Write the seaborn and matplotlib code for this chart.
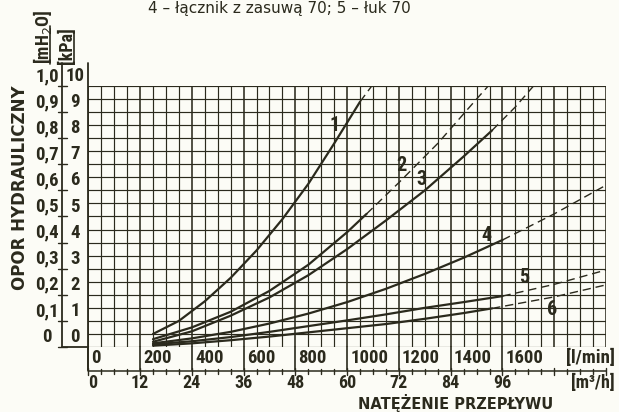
import matplotlib
matplotlib.use("Agg")
import matplotlib.pyplot as plt
from matplotlib import font_manager as fm
import seaborn as sns
import pandas as pd
import numpy as np

sns.set_theme(style="white")
plt.rcParams['font.family'] = ['DejaVu Sans']

_names = {f.name for f in fm.fontManager.ttflist}
if 'Roboto Condensed' in _names:
    NARROW, NS = ['Roboto Condensed', 'DejaVu Sans'], 13.5
elif 'Liberation Sans Narrow' in _names:
    NARROW, NS = ['Liberation Sans Narrow', 'DejaVu Sans'], 13.5
else:
    NARROW, NS = ['Roboto', 'DejaVu Sans'], 11

INK = "#2b2a1d"
PAPER = "#fcfcf6"

# ---------------- data (flow in l/min, pressure loss in kPa) ----------------
c1_x = [250, 350, 450, 550, 650, 750, 850, 950, 1050]
c1_y = [0.5, 1.0, 1.75, 2.65, 3.7, 4.9, 6.25, 7.8, 9.4]
c1_dx = [1050, 1095]
c1_dy = [9.4, 10.0]

c2_x = [250, 400, 550, 700, 850, 1000, 1075]
c2_y = [0.3, 0.75, 1.35, 2.15, 3.15, 4.4, 5.1]
c2_dx = [1075, 1200, 1350, 1500, 1545]
c2_dy = [5.1, 6.3, 7.8, 9.5, 10.0]

c3_x = [250, 400, 550, 700, 850, 1000, 1150, 1300, 1450, 1560]
c3_y = [0.2, 0.6, 1.2, 1.9, 2.75, 3.75, 4.85, 6.0, 7.3, 8.3]
c3_dx = [1560, 1650, 1720]
c3_dy = [8.3, 9.2, 10.0]

c4_x = [250, 400, 550, 700, 850, 1000, 1150, 1300, 1450, 1600]
c4_y = [0.14, 0.33, 0.58, 0.9, 1.28, 1.72, 2.23, 2.8, 3.42, 4.1]
c4_dx = [1600, 1800, 2000]
c4_dy = [4.1, 5.1, 6.2]

c5_x = [250, 400, 550, 700, 850, 1000, 1150, 1300, 1450, 1600]
c5_y = [0.1, 0.22, 0.38, 0.58, 0.8, 1.02, 1.25, 1.5, 1.72, 1.95]
c5_dx = [1600, 1800, 2000]
c5_dy = [1.95, 2.4, 2.95]

c6_x = [250, 400, 550, 700, 850, 1000, 1150, 1300, 1450, 1560]
c6_y = [0.05, 0.14, 0.26, 0.4, 0.56, 0.72, 0.88, 1.08, 1.3, 1.48]
c6_dx = [1560, 1800, 2000]
c6_dy = [1.48, 1.92, 2.38]

curve_names = ["1", "2", "3", "4", "5", "6"]
label_x = [950, 1208, 1288, 1540, 1683, 1790]
label_y = [8.5, 6.97, 6.4, 4.29, 2.65, 1.42]

lmin_ticks = [0, 200, 400, 600, 800, 1000, 1200, 1400, 1600]
lmin_labels = ["0", "200", "400", "600", "800", "1000", "1200", "1400", "1600"]
m3h_labels = ["0", "12", "24", "36", "48", "60", "72", "84", "96"]
kpa_ticks = [0, 1, 2, 3, 4, 5, 6, 7, 8, 9, 10]
kpa_labels = ["0", "1", "2", "3", "4", "5", "6", "7", "8", "9", "10"]
mh2o_labels = ["0", "0,1", "0,2", "0,3", "0,4", "0,5", "0,6", "0,7", "0,8", "0,9", "1,0"]

title = "4 \u2013 łącznik z zasuwą 70; 5 \u2013 łuk 70"

solid = [(c1_x, c1_y), (c2_x, c2_y), (c3_x, c3_y), (c4_x, c4_y), (c5_x, c5_y), (c6_x, c6_y)]
dashed = [(c1_dx, c1_dy), (c2_dx, c2_dy), (c3_dx, c3_dy), (c4_dx, c4_dy), (c5_dx, c5_dy), (c6_dx, c6_dy)]

# ---------------- figure ----------------
W, H = 619, 412
fig = plt.figure(figsize=(W / 100, H / 100), dpi=100, facecolor=PAPER)
L, R, T, B = 88.3, 606.0, 86.0, 347.0
ax = fig.add_axes([L / W, 1 - B / H, (R - L) / W, (B - T) / H])
ax.set_facecolor(PAPER)
ax.set_xlim(0, 2000)
ax.set_ylim(0, 10)

# grid
for gx in np.arange(0, 2001, 50):
    lw = 1.15 if gx % 200 == 0 else 0.85
    ax.axvline(gx, color=INK, lw=lw, zorder=1)
for gy in np.arange(0, 10.01, 0.5):
    ax.axhline(gy, color=INK, lw=0.85, zorder=1)

for s in ax.spines.values():
    s.set_visible(False)
ax.set_xticks([])
ax.set_yticks([])

# curves
for (xs, ys), (dx, dy), nm in zip(solid, dashed, curve_names):
    df = pd.DataFrame({"Q": xs, "p": ys})
    sns.lineplot(data=df, x="Q", y="p", ax=ax, color=INK, lw=1.6,
                 estimator=None, sort=True, zorder=3)
    dd = pd.DataFrame({"Q": dx, "p": dy})
    sns.lineplot(data=dd, x="Q", y="p", ax=ax, color=INK, lw=1.0,
                 estimator=None, sort=True, zorder=3,
                 linestyle=(0, (6, 3.5)))
ax.set_xlabel("")
ax.set_ylabel("")
ax.set_xlim(0, 2000)
ax.set_ylim(0, 10)

for nm, lx, ly in zip(curve_names, label_x, label_y):
    ax.text(lx, ly, nm, ha="center", va="center", fontsize=NS + 1,
            fontweight="bold", family=NARROW, color=INK, zorder=4)

# ---------------- bottom scales ----------------
xt = ax.get_xaxis_transform()
ph = B - T
band = -23 / ph
m3line = -24 / ph
for tx in lmin_ticks:
    ax.plot([tx, tx], [0, band], transform=xt, color=INK, lw=1.2, clip_on=False)
for tx, lab in zip(lmin_ticks, lmin_labels):
    ax.text(tx + 12, -11 / ph, lab, transform=xt, ha="left", va="center",
            fontsize=NS, fontweight="bold", family=NARROW, color=INK, clip_on=False)
ax.text(2035, -11 / ph, "[l/min]", transform=xt, ha="right", va="center",
        fontsize=NS, fontweight="bold", family=NARROW, color=INK, clip_on=False)

ax.plot([0, 2000], [m3line, m3line], transform=xt, color=INK, lw=1.1, clip_on=False)
for tx in np.arange(0, 2001, 50):
    hh = 3.5 if tx % 200 == 0 else 2.5
    ax.plot([tx, tx], [m3line + hh / ph, m3line - hh / ph], transform=xt,
            color=INK, lw=1.0, clip_on=False)
for tx, lab in zip(lmin_ticks, m3h_labels):
    ax.text(tx + (18 if tx == 0 else 0), -36 / ph, lab, transform=xt,
            ha="center", va="center", fontsize=NS - 0.5, fontweight="bold",
            family=NARROW, color=INK, clip_on=False)
ax.text(2035, -36 / ph, "[m³/h]", transform=xt, ha="right", va="center",
        fontsize=NS - 0.5, fontweight="bold", family=NARROW, color=INK, clip_on=False)
ax.text(1420, -56 / ph, "NATĘŻENIE PRZEPŁYWU", transform=xt, ha="center",
        va="center", fontsize=10.5, fontweight="bold", color=INK, clip_on=False)

# ---------------- left scales ----------------
yt = ax.get_yaxis_transform()
pw = R - L
colx = -(L - 61.7) / pw
ax.plot([0, 0], [0, 10.9], color=INK, lw=1.3, clip_on=False)
ax.plot([0, 0], [0, -23 / 26.1], color=INK, lw=1.3, clip_on=False)
ax.plot([colx, colx], [0, 10.9], transform=yt, color=INK, lw=1.3, clip_on=False)
ax.plot([colx, 0], [0, 0], transform=yt, color=INK, lw=1.3, clip_on=False)
for ty in kpa_ticks:
    ax.plot([colx - 4 / pw, colx + 5 / pw], [ty, ty], transform=yt,
            color=INK, lw=1.0, clip_on=False)
for ty, lab in zip(kpa_ticks, kpa_labels):
    ax.text(-13 / pw, ty + 0.38, lab, transform=yt, ha="center", va="center",
            fontsize=NS, fontweight="bold", family=NARROW, color=INK, clip_on=False)
for ty, lab in zip(kpa_ticks, mh2o_labels):
    ax.text(-(L - 47) / pw, ty + 0.38, lab, transform=yt, ha="center",
            va="center", fontsize=NS, fontweight="bold", family=NARROW,
            color=INK, clip_on=False)

fig.text(20 / W, 1 - 188 / H, "OPOR HYDRAULICZNY", rotation=90, ha="center",
         va="center", fontsize=12, fontweight="bold", color=INK)
fig.text(43 / W, 1 - 64 / H, "[mH$_2$O]", rotation=90, ha="center", va="bottom",
         fontsize=NS - 0.5, fontweight="bold", family=NARROW, color=INK)
fig.text(67 / W, 1 - 64 / H, "[kPa]", rotation=90, ha="center", va="bottom",
         fontsize=NS - 0.5, fontweight="bold", family=NARROW, color=INK)
fig.add_artist(plt.Line2D([50 / W, 50 / W], [1 - 64 / H, 1 - 26 / H], color=INK, lw=1.2))
fig.add_artist(plt.Line2D([74 / W, 74 / W], [1 - 64 / H, 1 - 32 / H], color=INK, lw=1.2))

fig.text(279 / W, 1 - 9 / H, title, ha="center", va="center", fontsize=11,
         color=INK)

fig.savefig("out.png", dpi=100, facecolor=PAPER)
